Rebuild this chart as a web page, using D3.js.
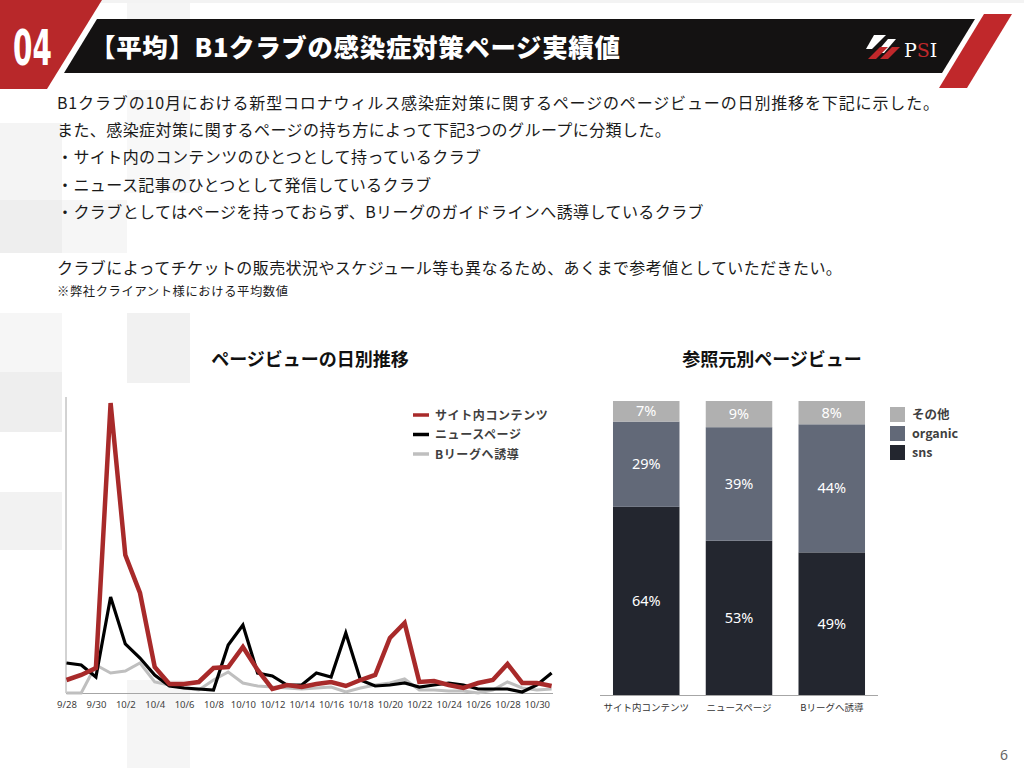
<!DOCTYPE html>
<html><head><meta charset="utf-8">
<script src="https://cdn.jsdelivr.net/npm/d3@7"></script>
<style>
html,body{margin:0;padding:0;background:#fff;}
svg{display:block;font-family:"Noto Sans CJK JP","Noto Sans",sans-serif;}
</style></head>
<body>
<svg id="c" width="1024" height="768"></svg>
<script>
// ---------- data ----------
const dates = ["9/28","9/29","9/30","10/1","10/2","10/3","10/4","10/5","10/6","10/7","10/8","10/9","10/10","10/11","10/12","10/13","10/14","10/15","10/16","10/17","10/18","10/19","10/20","10/21","10/22","10/23","10/24","10/25","10/26","10/27","10/28","10/29","10/30","10/31"];
const tickLabels = ["9/28","9/30","10/2","10/4","10/6","10/8","10/10","10/12","10/14","10/16","10/18","10/20","10/22","10/24","10/26","10/28","10/30"];
const siteContents = [13,18,25,290,138,100,26,9,9,11,25,26,46,23,4,8,6,9,11,7,13,18,55,70,11,12,8,5,10,13,29,10,10,7];
const newsPage     = [30,28,16,96,49,35,18,7,5,4,3,48,68,20,17,8,8,20,16,60,13,7,8,10,6,8,10,8,4,4,4,1,8,20];
const bleague      = [0,0,28,20,22,30,11,8,5,3,13,21,10,7,6,5,4,5,6,1,5,8,10,14,3,3,2,2,0,3,11,5,3,4];
const lineSeriesNames = ["サイト内コンテンツ","ニュースページ","Bリーグへ誘導"];

const barCategories = ["サイト内コンテンツ","ニュースページ","Bリーグへ誘導"];
const snsValues     = [64,53,49];
const organicValues = [29,39,44];
const otherValues   = [7,9,8];
const barSeriesNames = ["その他","organic","sns"];

const bodyTexts = [
  "B1クラブの10月における新型コロナウィルス感染症対策に関するページのページビューの日別推移を下記に示した。",
  "また、感染症対策に関するページの持ち方によって下記3つのグループに分類した。",
  "・サイト内のコンテンツのひとつとして持っているクラブ",
  "・ニュース記事のひとつとして発信しているクラブ",
  "・クラブとしてはページを持っておらず、Bリーグのガイドラインへ誘導しているクラブ",
  "クラブによってチケットの販売状況やスケジュール等も異なるため、あくまで参考値としていただきたい。"
];
// layout (not data)
const bodyY = [109,136,163,191,218,274];

const svg = d3.select("#c");

// ---------- background decoration ----------
const bgRects = [
  [0,123,62,77,"#f4f4f4"],[0,200,62,53,"#eeeeee"],[62,200,65,53,"#f6f6f6"],
  [127,90,63,103,"#f8f8f8"],[127,0,63,19,"#f5f5f5"],
  [0,313,62,59,"#f6f6f6"],[127,313,63,70,"#f1f1f1"],[0,372,62,60,"#eeeeee"],
  [0,492,62,58,"#f2f2f2"],[127,680,63,88,"#f5f5f5"]
];
svg.selectAll("rect.bg").data(bgRects).join("rect").attr("class","bg")
  .attr("x",d=>d[0]).attr("y",d=>d[1]).attr("width",d=>d[2]).attr("height",d=>d[3]).attr("fill",d=>d[4]);

// ---------- header ----------
svg.append("rect").attr("x",0).attr("y",0).attr("width",1024).attr("height",3).attr("fill","#f3f3f3");
svg.append("polygon").attr("points","0,0 102,0 47,89 0,89").attr("fill","#b8282a");
svg.append("polygon").attr("points","97,19 975,19 942,73 64,73").attr("fill","#141212");
svg.append("polygon").attr("points","984,14 1012,14 967,88 939,88").attr("fill","#c0282b");
svg.append("text").attr("x",0).attr("y",0)
  .attr("transform","translate(13,65) scale(0.62,1)")
  .attr("font-family","'Liberation Sans Narrow','DejaVu Sans Condensed',sans-serif")
  .attr("font-weight",700).attr("font-size",50).attr("fill","#fff").text("04");
svg.append("text").attr("x",90).attr("y",57).attr("font-weight",900).attr("font-size",25.5)
  .attr("textLength",530).attr("lengthAdjust","spacing")
  .attr("fill","#fff").text("【平均】B1クラブの感染症対策ページ実績値");
// logo
const logo = svg.append("g").attr("transform","translate(866,35)");
logo.append("polygon").attr("points","8,0 20,0 6,14 0,14").attr("fill","#fff");
logo.append("polygon").attr("points","22,4 30,4 18,18 10,18").attr("fill","#fff");
logo.append("polygon").attr("points","14,12 22,12 10,24 2,24").attr("fill","#c0282b");
logo.append("polygon").attr("points","26,12 34,12 22,24 14,24").attr("fill","#c0282b");
const logoText = logo.append("text").attr("x",38).attr("y",22).attr("font-family","'DejaVu Serif',serif")
  .attr("font-size",19).attr("fill","#fff");
logoText.append("tspan").text("P");
logoText.append("tspan").attr("fill","#c0282b").text("S");
logoText.append("tspan").text("I");

// ---------- body text ----------
svg.selectAll("text.body").data(bodyTexts).join("text").attr("class","body")
  .attr("x",57).attr("y",(d,i)=>bodyY[i]).attr("font-size",16).attr("letter-spacing",0.42)
  .attr("fill","#1a1a1a").text(d=>d);
svg.select("text.body").attr("letter-spacing",null).attr("textLength",882).attr("lengthAdjust","spacing");
svg.append("text").attr("x",57).attr("y",296).attr("font-size",12.3).attr("letter-spacing",0.6)
  .attr("fill","#1a1a1a").text("※弊社クライアント様における平均数値");

// ---------- line chart ----------
svg.append("text").attr("x",310).attr("y",366).attr("text-anchor","middle").attr("font-weight",700)
  .attr("font-size",18).attr("fill","#111").text("ページビューの日別推移");
const x = d3.scalePoint().domain(dates).range([66.5,551.6]);
const y = d3.scaleLinear().domain([0,296]).range([693,397]);
svg.append("line").attr("x1",66).attr("x2",66).attr("y1",y(296)).attr("y2",y(0)).attr("stroke","#a6a6a6").attr("stroke-width",1);
const xAxis = d3.axisBottom(x).tickValues(tickLabels).tickSize(0).tickPadding(8);
const gx = svg.append("g").attr("transform",`translate(0,${y(0)})`).call(xAxis);
gx.select(".domain").attr("d",`M66,0.5H553`).attr("stroke","#a6a6a6");
gx.selectAll("text").attr("font-family","'Noto Sans',sans-serif").attr("font-size",9.5).attr("fill","#404040");

const lineGen = d3.line().x((d,i)=>x(dates[i])).y(d=>y(d)).curve(d3.curveLinear);
const lineSeries = [
  {name:lineSeriesNames[2], values:bleague, color:"#bfbfbf", w:3},
  {name:lineSeriesNames[1], values:newsPage, color:"#000000", w:3.2},
  {name:lineSeriesNames[0], values:siteContents, color:"#a82a2a", w:4.5}
];
svg.selectAll("path.ln").data(lineSeries).join("path").attr("class","ln")
  .attr("d",d=>lineGen(d.values)).attr("fill","none").attr("stroke",d=>d.color)
  .attr("stroke-width",d=>d.w).attr("stroke-linejoin","miter");
const lgItems = [lineSeries[2],lineSeries[1],lineSeries[0]];
const lg = svg.selectAll("g.lg").data(lgItems).join("g").attr("class","lg")
  .attr("transform",(d,i)=>`translate(413,${415+i*19.5})`);
lg.append("line").attr("x1",0).attr("x2",16).attr("stroke",d=>d.color).attr("stroke-width",3.5);
lg.append("text").attr("x",22).attr("y",4.5).attr("font-size",12).attr("font-weight",700)
  .attr("letter-spacing",0.6).attr("fill","#3f3f3f").text(d=>d.name);

// ---------- stacked bar chart ----------
svg.append("text").attr("x",772).attr("y",366).attr("text-anchor","middle").attr("font-weight",700)
  .attr("font-size",18).attr("fill","#111").text("参照元別ページビュー");
const bx = d3.scaleBand().domain(barCategories).range([600,878]).paddingInner(0.283).paddingOuter(0.14);
const by = d3.scaleLinear().domain([0,1]).range([695,401]);
const rows = barCategories.map((c,i)=>({cat:c, sns:snsValues[i], organic:organicValues[i], other:otherValues[i]}));
const keys = ["sns","organic","other"];
const colors = {sns:"#23262f", organic:"#626978", other:"#b0b0b0"};
const stacked = d3.stack().keys(keys).offset(d3.stackOffsetExpand)(rows);
const layers = svg.selectAll("g.layer").data(stacked).join("g").attr("class","layer").attr("fill",d=>colors[d.key]);
layers.selectAll("rect").data(d=>d.map(s=>Object.assign(s,{key:d.key}))).join("rect")
  .attr("x",d=>bx(d.data.cat)).attr("width",bx.bandwidth())
  .attr("y",d=>by(d[1])).attr("height",d=>by(d[0])-by(d[1]));
layers.selectAll("text").data(d=>d).join("text")
  .attr("x",d=>bx(d.data.cat)+bx.bandwidth()/2).attr("y",d=>(by(d[0])+by(d[1]))/2+5)
  .attr("text-anchor","middle").attr("font-family","'Noto Sans',sans-serif").attr("font-size",14.5)
  .attr("fill","#fff").text(d=>d.data[d.key]+"%");
const bAxis = d3.axisBottom(bx).tickSize(0).tickPadding(9);
const gb = svg.append("g").attr("transform",`translate(0,${by(0)})`).call(bAxis);
gb.select(".domain").attr("d","M600,0.5H878").attr("stroke","#a6a6a6");
gb.selectAll("text").attr("font-family","'Noto Sans CJK JP',sans-serif").attr("font-size",9.5).attr("fill","#333");

const blColors = [colors.other, colors.organic, colors.sns];
const bl = svg.selectAll("g.bl").data(barSeriesNames).join("g").attr("class","bl")
  .attr("transform",(d,i)=>`translate(890,${407+i*19})`);
bl.append("rect").attr("width",15).attr("height",15).attr("fill",(d,i)=>blColors[i]);
bl.append("text").attr("x",22).attr("y",12).attr("font-size",12.5).attr("font-weight",700)
  .attr("fill","#3f3f3f").text(d=>d);

// page number
svg.append("text").attr("x",1008).attr("y",760).attr("text-anchor","end").attr("font-family","'Noto Sans',sans-serif")
  .attr("font-size",14).attr("fill","#666").text("6");
</script>
</body></html>
